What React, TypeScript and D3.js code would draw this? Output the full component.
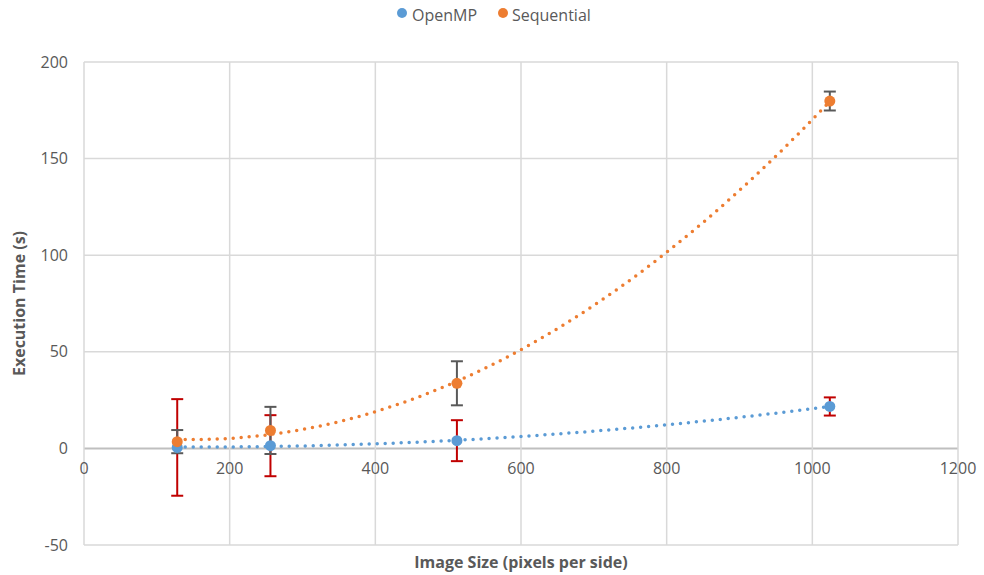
import React from 'react';
import * as d3 from 'd3';

const sizes = [128, 256, 512, 1024];
const openmp = [0.5, 1.4, 4.0, 21.7];
const openmpErr = [25, 15.8, 10.6, 4.7];
const sequential = [3.5, 9.3, 33.7, 179.8];
const sequentialErr = [6, 12.2, 11.4, 4.9];

const xTicks = [0, 200, 400, 600, 800, 1000, 1200];
const yTicks = [-50, 0, 50, 100, 150, 200];

const series = [
	{ name: 'OpenMP', values: openmp, errors: openmpErr, color: '#5B9BD5', errColor: '#C00000' },
	{ name: 'Sequential', values: sequential, errors: sequentialErr, color: '#ED7D31', errColor: '#595959' },
];

// least squares fit, order 2 (like the Excel polynomial trendline)
const polyFit = (xs: number[], ys: number[]) => {
	const s = [0, 0, 0, 0, 0];
	const t = [0, 0, 0];
	xs.forEach((x, i) => {
		for (let k = 0; k < 5; k++) s[k] += Math.pow(x, k);
		for (let k = 0; k < 3; k++) t[k] += ys[i] * Math.pow(x, k);
	});
	const m = [
		[s[0], s[1], s[2], t[0]],
		[s[1], s[2], s[3], t[1]],
		[s[2], s[3], s[4], t[2]],
	];
	for (let c = 0; c < 3; c++) {
		for (let r = c + 1; r < 3; r++) {
			const f = m[r][c] / m[c][c];
			for (let k = c; k < 4; k++) m[r][k] -= f * m[c][k];
		}
	}
	const coef = [0, 0, 0];
	for (let r = 2; r >= 0; r--) {
		let v = m[r][3];
		for (let k = r + 1; k < 3; k++) v -= m[r][k] * coef[k];
		coef[r] = v / m[r][r];
	}
	return (x: number) => coef[0] + coef[1] * x + coef[2] * x * x;
};

const App = () => {
	const svgWidth = 984;
	const svgHeight = 575;
	const margin = { top: 62, right: 26, bottom: 30, left: 84 };
	const width = svgWidth - margin.left - margin.right;
	const height = svgHeight - margin.top - margin.bottom;

	const xScale = d3.scaleLinear().domain([0, 1200]).range([0, width]);
	const yScale = d3.scaleLinear().domain([-50, 200]).range([height, 0]);

	const font = "'Open Sans', sans-serif";
	const textColor = '#595959';

	const trend = (values: number[]) => {
		const f = polyFit(sizes, values);
		const pts = d3.range(sizes[0], sizes[sizes.length - 1] + 0.1, 4).map((x) => [x, f(x)] as [number, number]);
		return d3
			.line<[number, number]>()
			.x((d) => xScale(d[0]))
			.y((d) => yScale(d[1]))(pts);
	};

	return (
		<div style={{ position: 'absolute', left: 0, top: 0 }}>
			<svg width={svgWidth} height={svgHeight} style={{ display: 'block', background: '#fff' }}>
				{/* legend */}
				<g fontFamily={font} fontSize={16} fill={textColor}>
					<circle cx={402} cy={13} r={5} fill={series[0].color} />
					<text x={412} y={21}>{series[0].name}</text>
					<circle cx={503} cy={13} r={5} fill={series[1].color} />
					<text x={512} y={21}>{series[1].name}</text>
				</g>

				<g transform={`translate(${margin.left},${margin.top})`}>
					{/* grid */}
					{yTicks.map((v) => (
						<line
							key={'gy' + v}
							x1={0}
							x2={width}
							y1={yScale(v)}
							y2={yScale(v)}
							stroke={v === 0 ? '#bfbfbf' : '#d9d9d9'}
							strokeWidth={v === 0 ? 2 : 1.5}
						/>
					))}
					{xTicks.map((v) => (
						<line
							key={'gx' + v}
							x1={xScale(v)}
							x2={xScale(v)}
							y1={0}
							y2={height}
							stroke='#d9d9d9'
							strokeWidth={1.5}
						/>
					))}

					{/* y tick labels */}
					{yTicks.map((v) => (
						<text
							key={'ty' + v}
							x={-16}
							y={yScale(v)}
							dy='0.35em'
							textAnchor='end'
							fontFamily={font}
							fontSize={16}
							fill={textColor}
						>
							{v}
						</text>
					))}
					{/* x tick labels sit below the zero line */}
					{xTicks.map((v) => (
						<text
							key={'tx' + v}
							x={xScale(v)}
							y={yScale(0) + 26}
							textAnchor='middle'
							fontFamily={font}
							fontSize={16}
							fill={textColor}
						>
							{v}
						</text>
					))}

					{/* trendlines */}
					{series.map((s) => (
						<path
							key={'tr' + s.name}
							d={trend(s.values) || ''}
							fill='none'
							stroke={s.color}
							strokeWidth={3.5}
							strokeLinecap='round'
							strokeDasharray='0 8'
						/>
					))}

					{/* error bars */}
					{series.map((s) =>
						s.values.map((v, i) => {
							const cx = xScale(sizes[i]);
							const y1 = yScale(v + s.errors[i]);
							const y2 = yScale(v - s.errors[i]);
							return (
								<g key={'e' + s.name + i} stroke={s.errColor} strokeWidth={2}>
									<line x1={cx} x2={cx} y1={y1} y2={y2} />
									<line x1={cx - 6} x2={cx + 6} y1={y1} y2={y1} />
									<line x1={cx - 6} x2={cx + 6} y1={y2} y2={y2} />
								</g>
							);
						})
					)}

					{/* points */}
					{series.map((s) =>
						s.values.map((v, i) => (
							<circle
								key={'p' + s.name + i}
								cx={xScale(sizes[i])}
								cy={yScale(v)}
								r={5.5}
								fill={s.color}
							/>
						))
					)}
				</g>

				{/* axis titles */}
				<text
					x={margin.left + width / 2}
					y={568}
					textAnchor='middle'
					fontFamily={font}
					fontSize={16}
					fontWeight='bold'
					fill={textColor}
				>
					Image Size (pixels per side)
				</text>
				<text
					transform={`translate(25,${margin.top + height / 2}) rotate(-90)`}
					textAnchor='middle'
					fontFamily={font}
					fontSize={16}
					fontWeight='bold'
					fill={textColor}
				>
					Execution Time (s)
				</text>
			</svg>
		</div>
	);
};

export default App;
